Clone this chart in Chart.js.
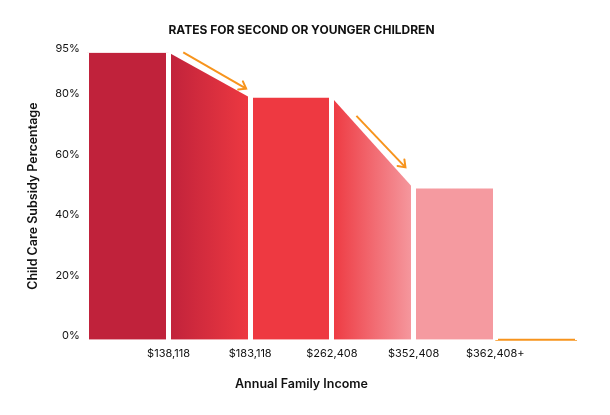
<!DOCTYPE html>
<html>
<head>
<meta charset="utf-8">
<script src="https://cdn.jsdelivr.net/npm/chart.js@4/dist/chart.umd.min.js"></script>
<style>
html,body{margin:0;padding:0;background:#fff;}
#wrap{width:610px;height:415px;position:relative;}
</style>
</head>
<body>
<div id="wrap"><canvas id="c"></canvas></div>
<script>
// ---- data ----
const incomeLabels = ['$138,118', '$183,118', '$262,408', '$352,408', '$362,408+']; // at bracket boundaries 1..5
const rateStart = [95, 95, 80, 80, 50, 0];   // % at left edge of each bracket
const rateEnd   = [95, 80, 80, 50, 50, 0];   // % at right edge of each bracket
const colorStart = ['#c0223b', '#c0223b', '#ee3941', '#ee3941', '#f59aa0', '#f7941d'];
const colorEnd   = ['#c0223b', '#ee3941', '#ee3941', '#f59aa0', '#f59aa0', '#f7941d'];
const yTicks = [0, 20, 40, 60, 80, 95];
const arrow1 = [{x: 1.18, y: 95}, {x: 1.95, y: 83}];
const arrow2 = [{x: 3.30, y: 74}, {x: 3.90, y: 57}];
const ORANGE = '#f7941d';
const FONT = 'Inter, "DejaVu Sans", sans-serif';

const datasets = [];
for (let i = 0; i < 5; i++) {
  datasets.push({
    data: [{x: i, y: rateStart[i]}, {x: i + 1, y: rateEnd[i]}],
    fill: 'origin',
    borderWidth: 0,
    pointRadius: 0,
    tension: 0,
    backgroundColor: (c) => {
      const chart = c.chart;
      if (!chart.chartArea) return colorStart[i];
      const xs = chart.scales.x;
      const g = chart.ctx.createLinearGradient(xs.getPixelForValue(i), 0, xs.getPixelForValue(i + 1), 0);
      g.addColorStop(0, colorStart[i]);
      g.addColorStop(1, colorEnd[i]);
      return g;
    }
  });
}
datasets.push({
  data: [{x: 5, y: rateStart[5]}, {x: 6, y: rateEnd[5]}],
  fill: false, borderColor: ORANGE, borderWidth: 2, pointRadius: 0, clip: false
});
[arrow1, arrow2].forEach(a => datasets.push({
  data: a, fill: false, borderColor: ORANGE, borderWidth: 2, pointRadius: 0, arrow: true, clip: false
}));

const arrowHeads = {
  id: 'arrowHeads',
  afterDatasetsDraw(chart) {
    const ctx = chart.ctx;
    chart.data.datasets.forEach((ds, di) => {
      if (!ds.arrow) return;
      const pts = chart.getDatasetMeta(di).data;
      const p0 = pts[0], p1 = pts[pts.length - 1];
      const ang = Math.atan2(p1.y - p0.y, p1.x - p0.x);
      const L = 8, A = Math.PI / 5;
      ctx.save();
      ctx.strokeStyle = ds.borderColor;
      ctx.lineWidth = 2;
      ctx.lineCap = 'round';
      ctx.beginPath();
      ctx.moveTo(p1.x - L * Math.cos(ang - A), p1.y - L * Math.sin(ang - A));
      ctx.lineTo(p1.x, p1.y);
      ctx.lineTo(p1.x - L * Math.cos(ang + A), p1.y - L * Math.sin(ang + A));
      ctx.stroke();
      ctx.restore();
    });
  }
};

new Chart(document.getElementById('c'), {
  type: 'line',
  data: { datasets },
  plugins: [arrowHeads],
  options: {
    responsive: true,
    maintainAspectRatio: false,
    animation: false,
    layout: { padding: { left: 26, right: 33, top: 0, bottom: 23 } },
    plugins: {
      legend: { display: false },
      tooltip: { enabled: false },
      title: {
        display: true,
        text: 'RATES FOR SECOND OR YOUNGER CHILDREN',
        color: '#111',
        font: { family: FONT, size: 12, weight: 'bold' },
        padding: { top: 23, bottom: 15 }
      },
      subtitle: {
        display: true,
        position: 'bottom',
        text: 'Annual Family Income',
        color: '#111',
        font: { family: FONT, size: 12.5, weight: '600' },
        padding: { top: 10, bottom: 0 }
      }
    },
    scales: {
      x: {
        type: 'linear',
        min: 0, max: 6,
        border: { display: false },
        grid: { color: '#ffffff', lineWidth: 5, z: 1, drawTicks: false },
        afterBuildTicks: (s) => { s.ticks = [0, 1, 2, 3, 4, 5, 6].map(v => ({value: v})); },
        ticks: {
          autoSkip: false, maxRotation: 0,
          padding: 7,
          color: '#111',
          font: { family: FONT, size: 11 },
          callback: (v) => (v >= 1 && v <= 5) ? incomeLabels[v - 1] : ''
        }
      },
      y: {
        min: 0, max: 95,
        border: { display: false },
        grid: { display: false, drawTicks: false },
        afterBuildTicks: (s) => { s.ticks = yTicks.map(v => ({value: v})); },
        ticks: {
          padding: 7,
          labelOffset: -4,
          color: '#111',
          font: { family: FONT, size: 11 },
          callback: (v) => v + '%'
        },
        title: {
          display: true,
          text: 'Child Care Subsidy Percentage',
          color: '#111',
          font: { family: FONT, size: 12.5, weight: '600' },
          padding: { top: 0, bottom: 7 }
        }
      }
    }
  }
});
</script>
</body>
</html>
